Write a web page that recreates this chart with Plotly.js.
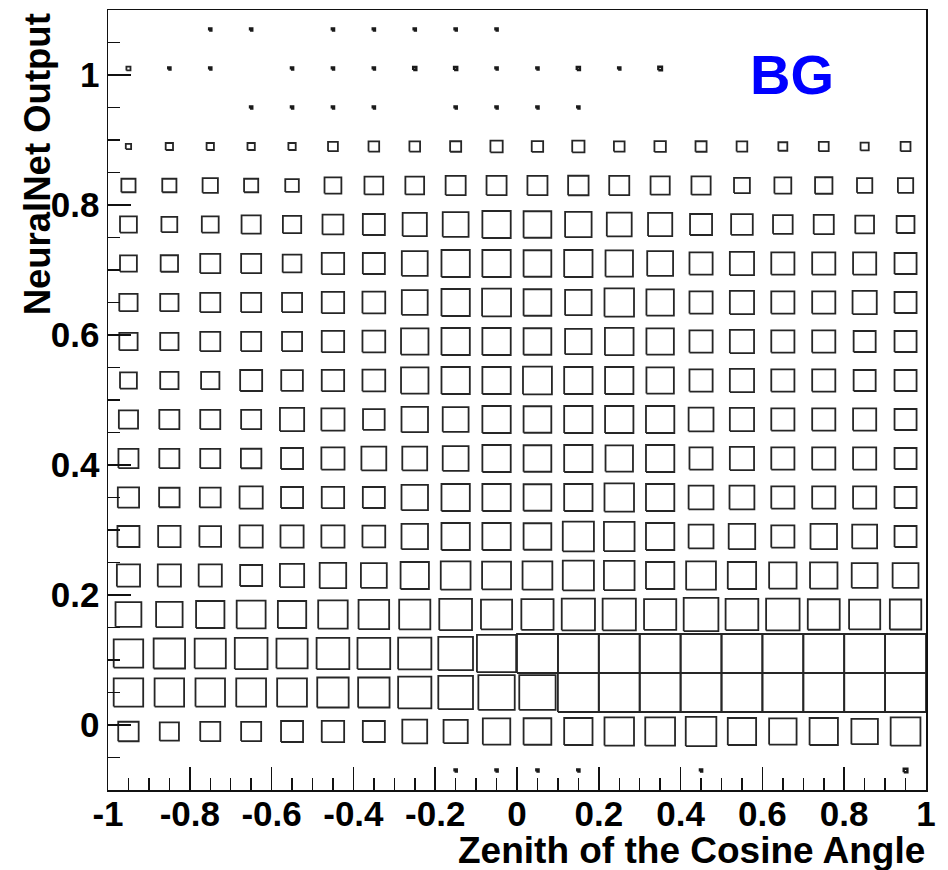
<!DOCTYPE html>
<html>
<head>
<meta charset="utf-8">
<script src="https://cdn.plot.ly/plotly-3.0.1.min.js"></script>
<style>html,body{margin:0;padding:0;background:#fff;}#chart{width:948px;height:870px;}</style>
</head>
<body>
<div id="chart"></div>
<script>
// Bin centres (cosine of zenith angle, NN output)
const xCenters = [-0.95,-0.85,-0.75,-0.65,-0.55,-0.45,-0.35,-0.25,-0.15,-0.05,0.05,0.15,0.25,0.35,0.45,0.55,0.65,0.75,0.85,0.95];
const yCenters = [-0.07,-0.01,0.05,0.11,0.17,0.23,0.29,0.35,0.41,0.47,0.53,0.59,0.65,0.71,0.77,0.83,0.89,0.95,1.01,1.07];
const binW = 0.1;
const binH = 0.06;

// Relative cell contents (rows follow yCenters, columns follow xCenters)
const counts = [
  [0,0,0,0,0,0,0,0,0.3,0.3,0.3,0.3,0,0,0.3,0,0,0,0,0.8],
  [25,22,24,24,29,30,29,37,35,45,46,48,52,53,56,48,45,48,42,53],
  [52,52,52,53,53,59,59,66,72,79,79,100,100,100,100,100,100,100,100,100],
  [52,59,58,64,58,64,64,66,72,92,100,100,100,100,100,100,100,100,100,100],
  [40,42,48,50,48,52,56,58,64,58,62,66,66,62,72,64,67,61,58,59],
  [32,32,32,29,35,42,40,48,53,50,53,58,56,48,53,48,45,45,40,40],
  [29,30,28,32,32,32,31,42,48,48,46,58,56,48,37,42,32,42,37,29],
  [27,25,26,32,29,30,29,42,48,48,46,48,52,48,37,37,32,32,32,29],
  [24,24,24,25,29,32,37,37,40,48,46,48,45,48,32,35,32,32,32,29],
  [22,24,24,24,35,32,28,42,40,48,46,48,48,48,37,35,32,32,32,29],
  [17,20,20,29,28,30,31,45,48,48,50,48,48,45,32,35,32,32,29,29],
  [20,20,24,24,24,30,31,45,48,48,46,42,49,45,32,35,32,32,29,29],
  [20,20,24,24,24,30,31,40,48,50,46,42,52,45,32,35,32,32,35,29],
  [17,18,24,24,21,30,29,40,48,48,46,48,45,40,32,35,32,32,32,29],
  [17,15,17,22,20,26,29,35,40,48,46,42,37,35,29,28,23,24,21,19],
  [12,12,14,12,11,17,21,21,24,24,24,25,24,22,22,15,17,18,14,14],
  [1.7,3.2,3.2,3.2,3.2,5.8,6.8,6.8,7.3,9,7.8,9,6.8,7.8,7.3,6.8,4.8,5.8,4,5.8],
  [0,0,0,0.3,0.3,0.3,0.3,0,0.3,0.3,0.3,0.3,0,0,0,0,0,0,0,0],
  [1,0.3,0.3,0,0.3,0.3,0.3,0.6,0.6,0.3,0.3,0.6,0.3,0.8,0,0,0,0,0,0],
  [0,0,0.3,0.3,0,0.3,0.3,0.3,0.3,0.3,0,0,0,0,0,0,0,0,0,0]
];

const xTickVals = [-1,-0.8,-0.6,-0.4,-0.2,0,0.2,0.4,0.6,0.8,1];
const xTickText = ['-1','-0.8','-0.6','-0.4','-0.2','0','0.2','0.4','0.6','0.8','1'];
const yTickVals = [0,0.2,0.4,0.6,0.8,1];
const yTickText = ['0','0.2','0.4','0.6','0.8','1'];

const xTitle = 'Zenith of the Cosine Angle';
const yTitle = 'NeuralNet Output';
const label = 'BG';

// Build box outlines (ROOT "BOX" style: side ~ sqrt(content/max))
let zmax = 0;
counts.forEach(r => r.forEach(v => { if (v > zmax) zmax = v; }));
const bx = [], by = [], dx = [], dy = [];
counts.forEach((row, r) => {
  row.forEach((z, c) => {
    if (z <= 0) return;
    const f = Math.sqrt(z / zmax);
    const hx = f * binW / 2, hy = f * binH / 2;
    const xc = xCenters[c], yc = yCenters[r];
    const X = f < 0.09 ? dx : bx, Y = f < 0.09 ? dy : by;
    X.push(xc - hx, xc + hx, xc + hx, xc - hx, xc - hx, null);
    Y.push(yc - hy, yc - hy, yc + hy, yc + hy, yc - hy, null);
  });
});

const FONT = 'Liberation Sans, Arial, Helvetica, sans-serif';
const boxes = {
  type: 'scatter', mode: 'lines', x: bx, y: by,
  line: {color: '#262626', width: 1.8},
  hoverinfo: 'skip', showlegend: false
};
const dots = {
  type: 'scatter', mode: 'lines', x: dx, y: dy,
  line: {color: '#1a1a1a', width: 2.4},
  hoverinfo: 'skip', showlegend: false
};

const axisCommon = {
  ticks: 'inside', tickwidth: 1.5, tickcolor: '#111', ticklen: 23,
  showline: true, linecolor: '#111', linewidth: 1.5, mirror: true,
  showgrid: false, zeroline: false,
  tickfont: {family: FONT, size: 35, weight: 'bold', color: '#000'}
};

const layout = {
  width: 948, height: 870,
  margin: {l: 108, r: 22, t: 10, b: 80},
  paper_bgcolor: '#fff', plot_bgcolor: '#fff',
  showlegend: false,
  xaxis: Object.assign({}, axisCommon, {
    range: [-1, 1], tickmode: 'array', tickvals: xTickVals, ticktext: xTickText,
    ticklabelstandoff: -8,
    minor: {tickmode: 'linear', tick0: -1, dtick: 0.05, ticks: 'inside', ticklen: 12, tickwidth: 1.5, tickcolor: '#111', showgrid: false}
  }),
  yaxis: Object.assign({}, axisCommon, {
    range: [-0.1, 1.1], tickmode: 'array', tickvals: yTickVals, ticktext: yTickText,
    minor: {tickmode: 'linear', tick0: 0, dtick: 0.05, ticks: 'inside', ticklen: 12, tickwidth: 1.5, tickcolor: '#111', showgrid: false}
  }),
  annotations: [
    {text: label, xref: 'paper', yref: 'paper', x: 0.836, y: 0.917, xanchor: 'center', yanchor: 'middle',
     showarrow: false, font: {family: FONT, size: 56, weight: 'bold', color: '#0000ff'}},
    {text: xTitle, xref: 'paper', yref: 'paper', x: 1, y: -0.077, xanchor: 'right', yanchor: 'middle',
     borderpad: 0, showarrow: false, font: {family: FONT, size: 37, weight: 'bold', color: '#000'}},
    {text: yTitle, xref: 'paper', yref: 'paper', x: -0.0868, y: 0.997, xanchor: 'center', yanchor: 'top',
     borderpad: 0, textangle: -90, showarrow: false, font: {family: FONT, size: 36.5, weight: 'bold', color: '#000'}}
  ]
};

Plotly.newPlot('chart', [boxes, dots], layout, {staticPlot: true, displayModeBar: false});
</script>
</body>
</html>
